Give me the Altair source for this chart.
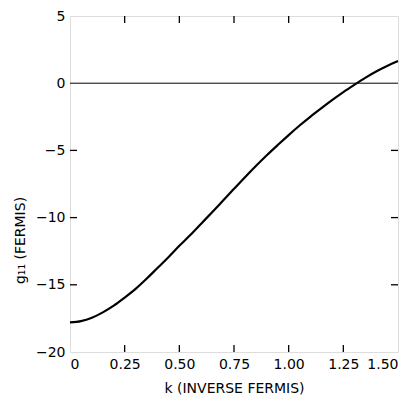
import altair as alt
import pandas as pd

k_values = [0.0, 0.05, 0.1, 0.15, 0.2, 0.25, 0.3, 0.35, 0.4, 0.45, 0.5, 0.55, 0.6,
            0.65, 0.7, 0.75, 0.8, 0.85, 0.9, 0.95, 1.0, 1.05, 1.1, 1.15, 1.2, 1.25,
            1.3, 1.35, 1.4, 1.45, 1.5]
g_values = [-17.8, -17.7, -17.45, -17.05, -16.55, -15.95, -15.3, -14.55, -13.75,
            -12.95, -12.1, -11.3, -10.45, -9.6, -8.73, -7.86, -7.0, -6.16, -5.36,
            -4.6, -3.86, -3.15, -2.48, -1.85, -1.24, -0.66, -0.12, 0.4, 0.87, 1.28, 1.65]
x_ticks = [0, 0.25, 0.5, 0.75, 1.0, 1.25, 1.5]
y_ticks = [5, 0, -5, -10, -15, -20]
inner_x_ticks = [0.25, 0.5, 0.75, 1.0, 1.25]
inner_y_ticks = [-5, -10, -15]

W, H = 328, 336
FONT = "DejaVu Sans"

curve_df = pd.DataFrame({"k": k_values, "g": g_values})
xt_df = pd.DataFrame({"k": inner_x_ticks})
yt_df = pd.DataFrame({"g": inner_y_ticks})
zero_df = pd.DataFrame({"g": [0]})

xscale = alt.Scale(domain=[0, 1.5], nice=False)
yscale = alt.Scale(domain=[-20, 5], nice=False)

x_axis = alt.Axis(values=x_ticks, ticks=False, domain=False, grid=False,
                  labelExpr="datum.value == 0 ? '0' : format(datum.value, '.2f')",
                  labelPadding=5, labelFontSize=14, labelFont=FONT, labelColor="black",
                  title="k (INVERSE FERMIS)", titleFontSize=14, titleFont=FONT,
                  titleFontWeight="normal", titleColor="black", titlePadding=10)
y_axis = alt.Axis(values=y_ticks, ticks=False, domain=False, grid=False,
                  labelPadding=5, labelFontSize=14, labelFont=FONT, labelColor="black",
                  labelBaseline="middle",
                  title="g₁₁ (FERMIS)", titleFontSize=14, titleFont=FONT,
                  titleFontWeight="normal", titleColor="black", titleAngle=-90,
                  titleY=224, titleX=-50, titleAlign="center", titleBaseline="middle")

curve = alt.Chart(curve_df).mark_line(color="black", strokeWidth=2.2,
                                      interpolate="monotone").encode(
    x=alt.X("k:Q", scale=xscale, axis=x_axis),
    y=alt.Y("g:Q", scale=yscale, axis=y_axis),
)

zero_line = alt.Chart(zero_df).mark_rule(color="black", strokeWidth=1).encode(
    y=alt.Y("g:Q", scale=yscale),
)

bottom_ticks = alt.Chart(xt_df).mark_rule(color="black", strokeWidth=1.3).encode(
    x=alt.X("k:Q", scale=xscale), y=alt.value(H), y2=alt.value(H - 7))
top_ticks = alt.Chart(xt_df).mark_rule(color="black", strokeWidth=1.3).encode(
    x=alt.X("k:Q", scale=xscale), y=alt.value(0), y2=alt.value(7))
left_ticks = alt.Chart(yt_df).mark_rule(color="black", strokeWidth=1.3).encode(
    y=alt.Y("g:Q", scale=yscale), x=alt.value(0), x2=alt.value(7))
right_ticks = alt.Chart(yt_df).mark_rule(color="black", strokeWidth=1.3).encode(
    y=alt.Y("g:Q", scale=yscale), x=alt.value(W), x2=alt.value(W - 7))

chart = alt.layer(zero_line, bottom_ticks, top_ticks, left_ticks, right_ticks, curve).properties(
    width=W, height=H,
    autosize=alt.AutoSizeParams(type="none"),
    padding={"left": 62, "top": 8, "right": 6, "bottom": 45},
).configure_view(stroke="black", strokeWidth=2, strokeOpacity=1).configure(background="white")

chart.save("out.html", embed_options={"renderer": "svg", "actions": False})
